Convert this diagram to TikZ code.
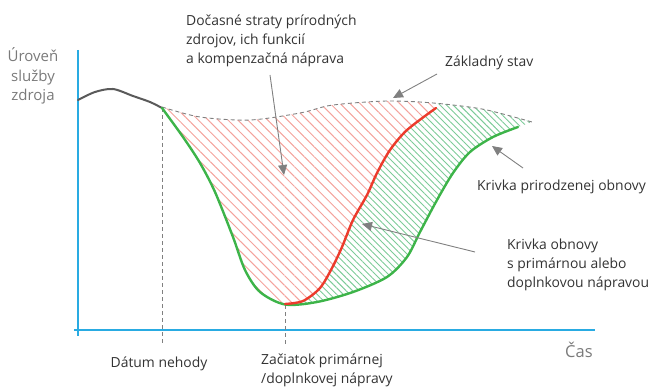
\documentclass[tikz,border=0pt]{standalone}
\usepackage{fontspec}
\setmainfont{Open Sans}
\usetikzlibrary{arrows.meta,patterns.meta}
\definecolor{axisblue}{HTML}{29ABE2}
\definecolor{curvegreen}{HTML}{3DB449}
\definecolor{curvered}{HTML}{EC3B2C}
\definecolor{hatchred}{HTML}{F4A29C}
\definecolor{hatchgreen}{HTML}{7CCB98}
\definecolor{txtgray}{HTML}{7A7A7A}
\definecolor{txtdark}{HTML}{333333}
\definecolor{arrgray}{HTML}{808080}
\definecolor{curvedark}{HTML}{5A5A5A}
\begin{document}
\begin{tikzpicture}[x=1pt,y=-1pt,
  lbl/.style={font=\fontsize{13.9}{19}\selectfont, text=txtdark, inner sep=0pt, align=left},
  axlbl/.style={font=\fontsize{15}{19.5}\selectfont, text=txtgray, inner sep=0pt},
  axisline/.style={draw=axisblue, line width=1.1pt},
  guide/.style={draw=arrgray, line width=0.9pt, dash pattern=on 4pt off 3pt},
  pointer/.style={draw=arrgray, line width=0.9pt, -{Triangle[length=10pt,width=9pt]}, arrgray}
]
\useasboundingbox (0,0) rectangle (652,387);

% axes
\coordinate (yaTop) at (78,50);
\coordinate (yaBot) at (78,336);
\coordinate (xaL) at (74,330);
\coordinate (xaR) at (595,330);
\draw[axisline] (yaTop) -- (yaBot);
\draw[axisline] (xaL) -- (xaR);

% hatched regions
\begin{scope}
  \clip plot[smooth] coordinates {(162,107) (200,117) (250,120) (300,113) (327,106) (353,103) (387,101) (420,102) (453,105) (487,110) (532,122)}
    -- plot[smooth] coordinates {(518,127) (493,137) (470,152) (453,173) (437,200) (420,232) (407,257) (387,277) (353,292) (317,302) (285,304.5) (260,292) (245,270) (233,237) (215,192) (200,163) (183,137) (162,108)} -- cycle;
  \begin{scope}
    \clip plot[smooth] coordinates {(285,304) (303,301) (320,288) (332,268) (342,247) (353,220) (367,195) (377,173) (390,150) (407,130) (436,108)} -- (436,0) -- (0,0) -- (0,400) -- (285,400) -- cycle;
    \fill[pattern={Lines[angle=-45,distance=7pt,line width=1pt]}, pattern color=hatchred] (150,90) rectangle (540,320);
  \end{scope}
  \begin{scope}
    \clip plot[smooth] coordinates {(285,304) (303,301) (320,288) (332,268) (342,247) (353,220) (367,195) (377,173) (390,150) (407,130) (436,108)} -- (436,0) -- (700,0) -- (700,400) -- (285,400) -- cycle;
    \fill[pattern={Lines[angle=-45,distance=4.6pt,line width=0.9pt]}, pattern color=hatchgreen] (150,90) rectangle (540,320);
  \end{scope}
\end{scope}

% guide lines
\coordinate (acc) at (162,108);
\coordinate (accB) at (162,344);
\coordinate (start) at (285,305);
\coordinate (startB) at (285,344);
\draw[guide] (acc) -- (accB);
\draw[guide] (start) -- (startB);

% baseline
\draw[draw=arrgray, line width=0.9pt, dash pattern=on 4pt off 3pt]
  plot[smooth] coordinates {(162,107) (200,117) (250,120) (300,113) (327,106) (353,103) (387,101) (420,102) (453,105) (487,110) (532,122)};

% pre-accident curve
\draw[draw=curvedark, line width=2pt, line cap=round]
  plot[smooth] coordinates {(78,100) (95,92) (113,89) (133,96) (150,102) (162,108)};

% natural recovery
\draw[draw=curvegreen, line width=2.4pt, line cap=round]
  plot[smooth] coordinates {(162,108) (183,137) (200,163) (215,192) (233,237) (245,270) (260,292) (285,304.5) (317,302) (353,292) (387,277) (407,257) (420,232) (437,200) (453,173) (470,152) (493,137) (518,127)};

% remediation recovery
\draw[draw=curvered, line width=2.4pt, line cap=round]
  plot[smooth] coordinates {(285,304) (303,301) (320,288) (332,268) (342,247) (353,220) (367,195) (377,173) (390,150) (407,130) (436,108)};

% labels (multi-line nodes: base = baseline of last line)
\node[axlbl, align=center, anchor=base] (ylab) at (33,101) {Úroveň\\služby\\zdroja};
\node[axlbl, font=\fontsize{16.5}{20}\selectfont, anchor=base west] (xlab) at (565,357) {Čas};
\node[lbl, anchor=base west] (loss) at (186,64) {Dočasné straty prírodných\\zdrojov, ich funkcií\\a kompenzačná náprava};
\node[lbl, anchor=base west] (base) at (445,67) {Základný stav};
\node[lbl, anchor=base west] (nat) at (477,190) {Krivka prirodzenej obnovy};
\node[lbl, anchor=base west] (rem) at (507,287) {Krivka obnovy\\s primárnou alebo\\doplnkovou nápravou};
\node[lbl, anchor=base] (date) at (159,367) {Dátum nehody};
\node[lbl, anchor=base west] (begin) at (261,383) {Začiatok primárnej\\/doplnkovej nápravy};

% pointers
\coordinate (p1s) at (270,75);
\coordinate (p1e) at (284,175);
\coordinate (p2s) at (437,74);
\coordinate (p2e) at (393,98);
\coordinate (p3s) at (523,168);
\coordinate (p3e) at (492,146);
\coordinate (p4s) at (475,252);
\coordinate (p4e) at (362,224);
\draw[pointer] (p1s) -- (p1e);
\draw[pointer] (p2s) -- (p2e);
\draw[pointer] (p3s) -- (p3e);
\draw[pointer] (p4s) -- (p4e);
\end{tikzpicture}
\end{document}
